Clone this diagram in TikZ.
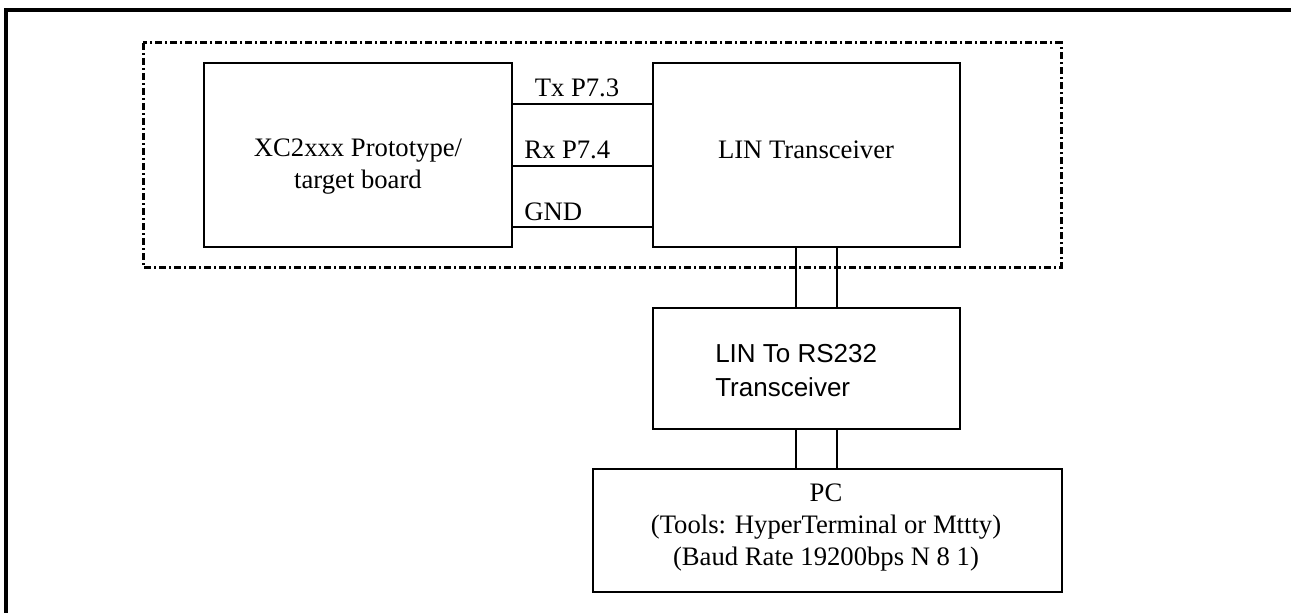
\documentclass[tikz,border=0pt]{standalone}
\usepackage{fontspec}
\setmainfont{Liberation Serif}
\setsansfont{Liberation Sans}
\tikzset{
  box/.style={draw=black, line width=1.5pt, inner sep=0pt, outer sep=0pt, fill=none},
  wire/.style={draw=black, line width=1.5pt},
  sertext/.style={font=\fontsize{20}{24}\selectfont, inner sep=0pt, align=center},
  santext/.style={font=\sffamily\fontsize{19.5}{25.5}\selectfont, inner sep=0pt, align=left},
  frameline/.style={draw=black, line width=2.4pt},
  groupline/.style={draw=black, line width=2.25pt, dash pattern=on 5.25pt off 2.25pt on 1.5pt off 2.25pt}
}
\begin{document}
\begin{tikzpicture}[x=0.75pt, y=-0.75pt]
\useasboundingbox (0,0) rectangle (1291,613);
\fill[white] (0,0) rectangle (1291,613);
% outer frame (only left and top visible)
\draw[frameline] (6,620) -- (6,10) -- (1300,10);
% dash-dot group
\draw[groupline] (143,43) rectangle (1061,267);
% boxes
\node[box, minimum width=231pt, minimum height=138pt] (proto) at (358,155) {};
\node[box, minimum width=230.25pt, minimum height=138pt] (lin) at (806.5,155) {};
\node[box, minimum width=230.25pt, minimum height=90.75pt] (rs) at (806.5,368.5) {};
\node[box, minimum width=351.75pt, minimum height=92.25pt] (pc) at (827.5,530.5) {};
% texts
\node[sertext] (protot) at (358,167) {XC2xxx Prototype/\\target board};
\node[sertext] (lint) at (806,150) {LIN Transceiver};
\node[santext, anchor=west] (rst) at (715,371) {LIN To RS232\\Transceiver};
\node[sertext] (pct) at (826,528) {PC\\(Tools: HyperTerminal or Mttty)\\(Baud Rate 19200bps N 8 1)};
% signal wires
\draw[wire] (proto.east |- 0,104) -- (lin.west |- 0,104);
\draw[wire] (proto.east |- 0,166) -- (lin.west |- 0,166);
\draw[wire] (proto.east |- 0,227) -- (lin.west |- 0,227);
\node[sertext] (txl) at (577,88) {Tx P7.3};
\node[sertext, anchor=west] (rxl) at (524,150) {Rx P7.4};
\node[sertext, anchor=west] (gndl) at (524,212) {GND};
% vertical links
\draw[wire] (lin.south -| 796,0) -- (rs.north -| 796,0);
\draw[wire] (lin.south -| 837,0) -- (rs.north -| 837,0);
\draw[wire] (rs.south -| 796,0) -- (pc.north -| 796,0);
\draw[wire] (rs.south -| 837,0) -- (pc.north -| 837,0);
\end{tikzpicture}
\end{document}
